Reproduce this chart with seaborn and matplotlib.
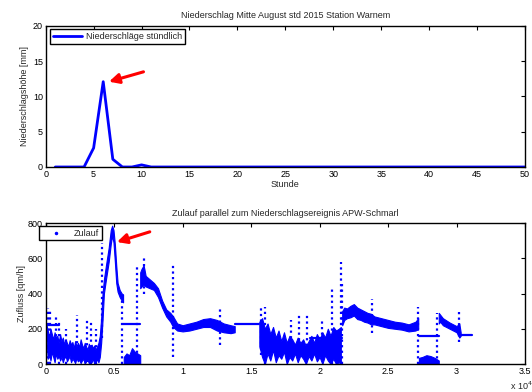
import numpy as np
import matplotlib
matplotlib.use("Agg")
import matplotlib.pyplot as plt
import seaborn as sns
from matplotlib.lines import Line2D

sns.set_style("white")
plt.rcParams['font.family'] = ['Liberation Sans', 'DejaVu Sans']
plt.rcParams['font.size'] = 6.5

# ---------------- data: top chart (hourly precipitation) ----------------
hours = list(range(1, 51))
precip = [0, 0, 0, 0, 2.7, 12.1, 1.1, 0, 0, 0.3] + [0] * 40

# ---------------- data: bottom chart (inflow, sample index) -------------
# dense point cloud read as lower / upper envelope per segment
seg1_x = [50, 150, 250, 350, 450, 550, 650, 750, 850, 950, 1050, 1150, 1250, 1350,
          1450, 1550, 1650, 1750, 1850, 1950, 2050, 2150, 2250, 2350, 2450, 2550,
          2650, 2750, 2850, 2950, 3050, 3150, 3250, 3350, 3450, 3550, 3650, 3750,
          3850, 3950, 4050, 4150, 4250, 4400, 4600, 4750, 4850, 4950, 5050, 5150,
          5250, 5400, 5550, 5650]
seg1_lo = [150, 30, 60, 20, 70, 40, 10, 60, 30, 50, 20, 40, 10, 35,
           50, 15, 30, 45, 10, 30, 20, 5, 35, 15, 25, 5,
           20, 30, 0, 15, 25, 5, 20, 10, 30, 0, 15, 25,
           10, 40, 120, 250, 400, 480, 580, 680, 730, 690, 580, 460,
           410, 380, 360, 350]
seg1_hi = [225, 190, 150, 200, 170, 140, 180, 150, 160, 120, 170, 130, 150, 110,
           140, 120, 100, 135, 110, 125, 90, 130, 100, 120, 95, 140,
           110, 90, 120, 100, 80, 115, 95, 110, 90, 105, 80, 100,
           120, 160, 260, 400, 480, 560, 660, 760, 785, 760, 680, 560,
           460, 420, 400, 395]

seg2_x = [5700, 5900, 6100, 6300, 6500, 6700, 6900]
seg2_lo = [0, 0, 0, 0, 0, 0, 0]
seg2_hi = [40, 60, 50, 90, 70, 60, 50]

seg3_x = [6900, 7000, 7150, 7300, 7600, 7900, 8200, 8500, 8800, 9100, 9300, 9600,
          10000, 10500, 11000, 11500, 12000, 12500, 13000, 13500, 13800]
seg3_lo = [430, 440, 450, 440, 430, 420, 380, 320, 270, 240, 210, 190,
           185, 190, 200, 210, 210, 190, 180, 175, 180]
seg3_hi = [520, 540, 560, 500, 480, 460, 430, 360, 310, 290, 270, 230,
           220, 230, 240, 255, 260, 250, 230, 220, 215]

seg4_x = [15600, 15800, 16000, 16200, 16400, 16600, 16800, 17000, 17200, 17400,
          17600, 17800, 18000, 18200, 18400, 18600, 18800, 19000, 19200, 19400,
          19600, 19800, 20000, 20200, 20400, 20600, 20800, 21000, 21200, 21400, 21550]
seg4_lo = [100, 40, 0, 60, 20, 80, 10, 50, 30, 70, 0, 40, 20, 60, 10, 50, 30, 0,
           45, 20, 60, 15, 40, 0, 50, 20, 0, 30, 0, 10, 0]
seg4_hi = [240, 260, 200, 230, 170, 210, 150, 190, 130, 180, 120, 160, 140, 110,
           150, 120, 140, 100, 130, 160, 120, 170, 140, 180, 150, 200, 160, 210,
           190, 200, 210]

seg5_x = [21650, 21800, 22000, 22250, 22500, 22750, 23000, 23250, 23500, 23750,
          24000, 24500, 25000, 25500, 26000, 26500, 27000, 27200]
seg5_lo = [220, 250, 260, 265, 275, 255, 250, 240, 235, 225, 225, 215, 205, 200,
           195, 185, 190, 200]
seg5_hi = [300, 320, 315, 330, 340, 320, 310, 300, 290, 285, 270, 260, 250, 240,
           235, 225, 240, 260]

seg6_x = [27250, 27500, 27800, 28100, 28400, 28700]
seg6_lo = [0, 0, 0, 0, 0, 0]
seg6_hi = [35, 40, 50, 45, 35, 20]

seg7_x = [28700, 28800, 29000, 29500, 30000, 30200, 30300]
seg7_lo = [230, 240, 220, 200, 180, 150, 160]
seg7_hi = [290, 280, 260, 235, 215, 230, 180]

# flat (gap-filled) stretches: start, end, level
flat_start = [0, 5650, 13800, 19300, 27250, 30300]
flat_end = [1000, 6900, 15600, 21600, 28700, 31150]
flat_level = [220, 225, 225, 150, 160, 165]

# isolated spikes: position, low, high
spike_x = [200, 300, 760, 1000, 1500, 2300, 3000, 3300, 3700, 4100, 5600, 6700, 7150,
           9270, 12700, 15700, 16000, 17900, 18500, 19100, 20200, 20900, 21550, 21650,
           23800, 27200, 28600, 30200]
spike_lo = [0, 0, 60, 0, 0, 20, 10, 0, 0, 150, 0, 0, 400,
            40, 110, 50, 0, 50, 40, 40, 40, 0, 0, 0,
            176, 0, 0, 127]
spike_hi = [320, 300, 268, 250, 200, 278, 250, 240, 200, 686, 380, 550, 600,
            573, 323, 320, 323, 250, 278, 278, 250, 437, 580, 465,
            368, 323, 291, 302]

xticks_bottom = [0, 5000, 10000, 15000, 20000, 25000, 30000, 35000]
xticklabels_bottom = ["0", "0.5", "1", "1.5", "2", "2.5", "3", "3.5"]

BLUE = (0, 0, 1)

fig = plt.figure(figsize=(5.32, 3.92), dpi=100)
ax1 = fig.add_axes([0.0859, 0.574, 0.901, 0.3597])
ax2 = fig.add_axes([0.0859, 0.0714, 0.901, 0.3597])

# ---------------- top chart ----------------
sns.lineplot(x=hours, y=precip, ax=ax1, color=BLUE, linewidth=2,
             label="Niederschläge stündlich")
ax1.set_xlim(0, 50)
ax1.set_ylim(0, 20)
ax1.set_xticks(range(0, 51, 5))
ax1.set_yticks(range(0, 21, 5))
ax1.set_title("Niederschlag Mitte August std 2015 Station Warnem", fontsize=6.5, pad=6)
ax1.set_xlabel("Stunde", fontsize=6.5, labelpad=1)
ax1.set_ylabel("Niederschlagshöhe [mm]", fontsize=6.5, labelpad=3)
leg1 = ax1.legend(loc="upper left", bbox_to_anchor=(50 / 532, 1 - 29 / 392),
                  bbox_transform=fig.transFigure, borderaxespad=0, fancybox=False,
                  framealpha=1, edgecolor="black", fontsize=6.5, handlelength=3.2,
                  borderpad=0.35, handletextpad=0.4)
leg1.get_frame().set_linewidth(1.0)
ax1.annotate("", xy=(6.6, 12.1), xytext=(10.2, 13.5),
             arrowprops=dict(arrowstyle="-|>,head_length=0.9,head_width=0.45",
                             color="red", lw=2.2, shrinkA=0, shrinkB=0))

# ---------------- bottom chart ----------------
segments = [(seg1_x, seg1_lo, seg1_hi), (seg2_x, seg2_lo, seg2_hi),
            (seg3_x, seg3_lo, seg3_hi), (seg4_x, seg4_lo, seg4_hi),
            (seg5_x, seg5_lo, seg5_hi), (seg6_x, seg6_lo, seg6_hi),
            (seg7_x, seg7_lo, seg7_hi)]
for sx, lo, hi in segments:
    ax2.fill_between(sx, lo, hi, color=BLUE, linewidth=0.8, edgecolor=BLUE)

for s, e, lvl in zip(flat_start, flat_end, flat_level):
    sns.lineplot(x=[s, e], y=[lvl, lvl], ax=ax2, color=BLUE, linewidth=1.6, legend=False)

ax2.vlines(spike_x, spike_lo, spike_hi, colors=[BLUE], linestyles=(0, (1, 1.5)),
           linewidth=1.6)

ax2.set_xlim(0, 35000)
ax2.set_ylim(0, 800)
ax2.set_xticks(xticks_bottom)
ax2.set_xticklabels(xticklabels_bottom)
ax2.set_yticks(range(0, 801, 200))
ax2.set_title("Zulauf parallel zum Niederschlagsereignis APW-Schmarl", fontsize=6.5, pad=5)
ax2.set_ylabel("Zufluss [qm/h]", fontsize=6.5, labelpad=1)
handle = Line2D([], [], color=BLUE, marker=".", linestyle="none", markersize=3)
leg2 = ax2.legend([handle], ["Zulauf"], loc="upper left",
                  bbox_to_anchor=(39 / 532, 1 - 226 / 392), bbox_transform=fig.transFigure,
                  borderaxespad=0, fancybox=False, framealpha=1, edgecolor="black",
                  fontsize=6.5, handlelength=3.2, borderpad=0.3, handletextpad=0.4)
leg2.get_frame().set_linewidth(1.0)
fig.text(510 / 532, 1 - 386 / 392, r"x 10$^4$", fontsize=6.5, ha="left", va="center")
ax2.annotate("", xy=(5200, 692), xytext=(7600, 750),
             arrowprops=dict(arrowstyle="-|>,head_length=0.9,head_width=0.45",
                             color="red", lw=2.2, shrinkA=0, shrinkB=0))

for ax in (ax1, ax2):
    for sp in ax.spines.values():
        sp.set_visible(True)
        sp.set_color("black")
        sp.set_linewidth(1.0)
    ax.tick_params(direction="in", length=3, width=0.8, top=True, right=True,
                   labelsize=6.5, pad=2, colors="black")
    ax.set_facecolor("white")

fig.savefig("out.png", dpi=100, facecolor="white")
